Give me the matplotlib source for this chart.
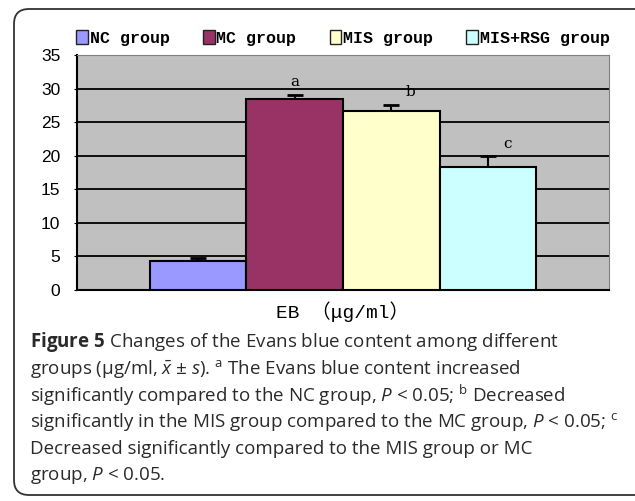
import matplotlib as mpl
mpl.use('Agg')
import matplotlib.pyplot as plt
from matplotlib.patches import FancyBboxPatch, Patch

# data
groups = ['NC group', 'MC group', 'MIS group', 'MIS+RSG group']
eb_mean = [4.3, 28.4, 26.7, 18.3]
eb_sd = [0.4, 0.7, 0.9, 1.6]
sig_labels = ['', 'a', 'b', 'c']
colors = ['#9999FF', '#993366', '#FFFFCC', '#CCFFFF']
yticks = [0, 5, 10, 15, 20, 25, 30, 35]

plt.rcParams['mathtext.fontset'] = 'custom'
plt.rcParams['mathtext.rm'] = 'Open Sans'
plt.rcParams['mathtext.it'] = 'Open Sans:italic'
plt.rcParams['mathtext.bf'] = 'Open Sans:bold'

W, H = 635, 501
fig = plt.figure(figsize=(W / 100, H / 100), dpi=100)

# rounded frame around figure + caption
frame = FancyBboxPatch((0.14, 0.06), 6.4, 4.86,
                       boxstyle='round,pad=0,rounding_size=0.15',
                       transform=fig.dpi_scale_trans, fc='none',
                       ec='#333333', lw=1.3, zorder=-1)
fig.patches.append(frame)

ax = fig.add_axes([77 / W, (H - 290) / H, 532 / W, 235 / H])
ax.set_facecolor('#C0C0C0')
x = list(range(len(groups)))
ax.bar(x, eb_mean, width=1.0, color=colors, edgecolor='black', lw=1.5,
       zorder=3)
# error bars behind the bars so only the upper half shows
ax.errorbar(x, eb_mean, yerr=[[0] * 4, eb_sd], fmt='none', ecolor='black',
            elinewidth=1.5, capsize=6, capthick=2, zorder=2)
for xi, m, s, lab in zip(x, eb_mean, eb_sd, sig_labels):
    if lab:
        ax.text(xi + (0.0 if lab == 'a' else 0.2), m + s + 0.8, lab,
                ha='center', va='bottom', fontsize=11,
                family='DejaVu Serif', zorder=5)

ax.set_xlim(-1.25, 4.25)
ax.set_ylim(0, 35)
ax.set_yticks(yticks)
ax.set_xticks([])
ax.yaxis.grid(True, color='black', lw=1.3, zorder=1)
ax.set_axisbelow(True)
for sp in ['top', 'right']:
    ax.spines[sp].set_color('#808080')
ax.spines['left'].set_linewidth(1.5)
ax.spines['bottom'].set_linewidth(1.5)
ax.tick_params(axis='y', length=2, pad=10, labelsize=12.5)
for t in ax.get_yticklabels():
    t.set_family('Liberation Sans')

ax.set_xlabel('EB （μg/ml）', family=['Liberation Mono', 'Noto Sans CJK SC'],
              fontsize=14, labelpad=8)

handles = [Patch(fc=c, ec='#222222', lw=1.0) for c in colors]
fig.legend(handles, groups, loc='center', ncol=4,
           bbox_to_anchor=(343 / W, (H - 38) / H), frameon=False,
           handlelength=0.7, handleheight=0.9, handletextpad=0.1,
           columnspacing=2.0,
           prop={'family': 'Liberation Mono', 'weight': 'bold', 'size': 12})

caption = [
    r'$\mathbf{Figure\ 5}$ Changes of the Evans blue content among different',
    r'groups (μg/ml, $\bar{x}$ ± $s$). $^{\mathrm{a}}$ The Evans blue content increased',
    r'significantly compared to the NC group, $P$ < 0.05; $^{\mathrm{b}}$ Decreased',
    r'significantly in the MIS group compared to the MC group, $P$ < 0.05; $^{\mathrm{c}}$',
    r'Decreased significantly compared to the MIS group or MC',
    r'group, $P$ < 0.05.',
]
y0 = 342
for i, line in enumerate(caption):
    fig.text(30 / W, (H - (y0 + i * 26.8)) / H, line, ha='left',
             va='center', fontsize=13.5, family='Open Sans', color='#2a2a2a')

fig.savefig('out.png', dpi=100)
